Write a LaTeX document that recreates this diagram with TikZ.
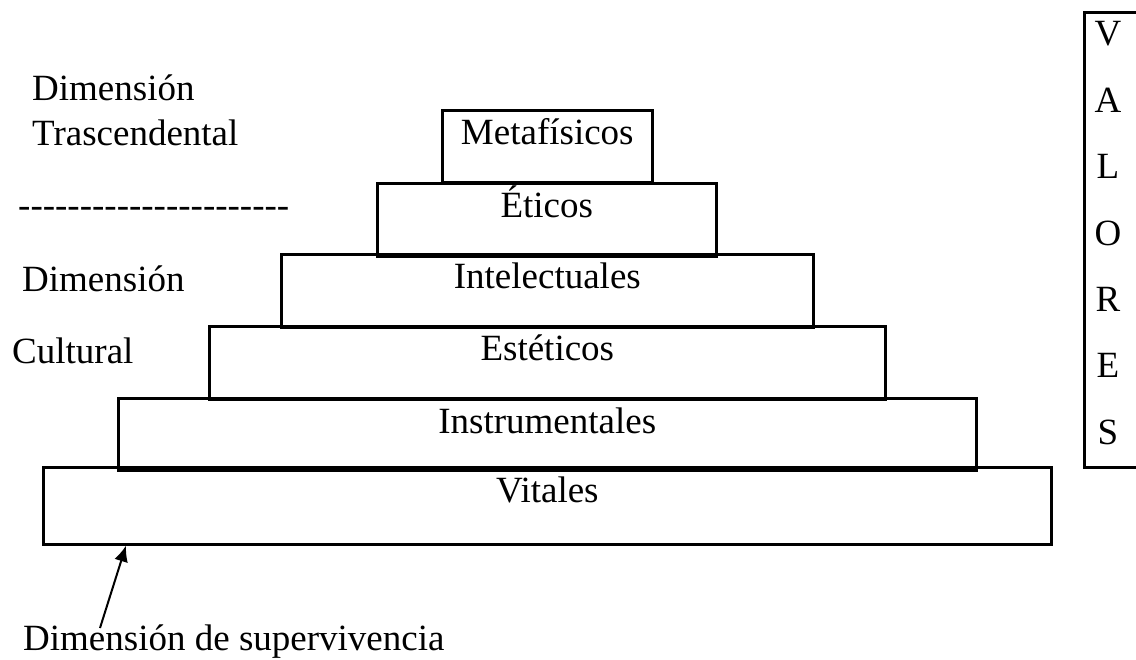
\documentclass[tikz,border=0pt]{standalone}
\usepackage{fontspec}
\setmainfont{Liberation Serif}
\usetikzlibrary{positioning,arrows.meta}
\tikzset{
  nivel/.style={draw, line width=2.6pt, inner sep=0pt, anchor=north west},
  rotulo/.style={inner sep=0pt, font=\fontsize{37}{44}\selectfont},
}
\begin{document}
\begin{tikzpicture}[x=1pt,y=-1pt]
\useasboundingbox (0,0) rectangle (1136,660);
%\draw[help lines] (0,0) grid[step=50] (1136,660);
\node[nivel, minimum width=210pt, minimum height=72pt] (meta) at (441,109) {};
\node[nivel, minimum width=339pt, minimum height=73pt] (etic) at (376,182) {};
\node[nivel, minimum width=532pt, minimum height=73pt] (intel) at (280,253) {};
\node[nivel, minimum width=676pt, minimum height=73pt] (estet) at (208,325) {};
\node[nivel, minimum width=858pt, minimum height=72pt] (instr) at (117,397) {};
\node[nivel, minimum width=1008pt, minimum height=77pt] (vital) at (42,466) {};
\node[rotulo, below=36pt of meta.north, anchor=base] (metat) {Metafísicos};
\node[rotulo, below=36pt of etic.north, anchor=base] (etict) {Éticos};
\node[rotulo, below=36pt of intel.north, anchor=base] (intelt) {Intelectuales};
\node[rotulo, below=36pt of estet.north, anchor=base] (estett) {Estéticos};
\node[rotulo, below=36pt of instr.north, anchor=base] (instrt) {Instrumentales};
\node[rotulo, below=36pt of vital.north, anchor=base] (vitalt) {Vitales};
\node[rotulo, anchor=base west] (dimt) at (32,101) {Dimensión};
\node[rotulo, anchor=base west] (trasc) at (32,146) {Trascendental};
\node[rotulo, anchor=base west] (raya) at (18,218) {-{}-{}-{}-{}-{}-{}-{}-{}-{}-{}-{}-{}-{}-{}-{}-{}-{}-{}-{}-{}-{}-};
\node[rotulo, anchor=base west] (dimc) at (22,292) {Dimensión};
\node[rotulo, anchor=base west] (cult) at (12,364) {Cultural};
\node[rotulo, anchor=base west] (dims) at (23,650) {Dimensión de supervivencia};
% columna de valores
\node[nivel, minimum width=60pt, minimum height=455pt] (valores) at (1083,11) {};
\foreach \letra [count=\i from 0] in {V,A,L,O,R,E,S}
  \node[rotulo, anchor=base] (letra\i) at (1108,{46+66.4*\i}) {\letra};
\coordinate (cola) at (100,628);
\coordinate (punta) at ([xshift=84pt]vital.south west);
\draw[line width=2pt, -{Latex[length=16pt,width=14pt]}] (cola) -- (punta);
\end{tikzpicture}
\end{document}
